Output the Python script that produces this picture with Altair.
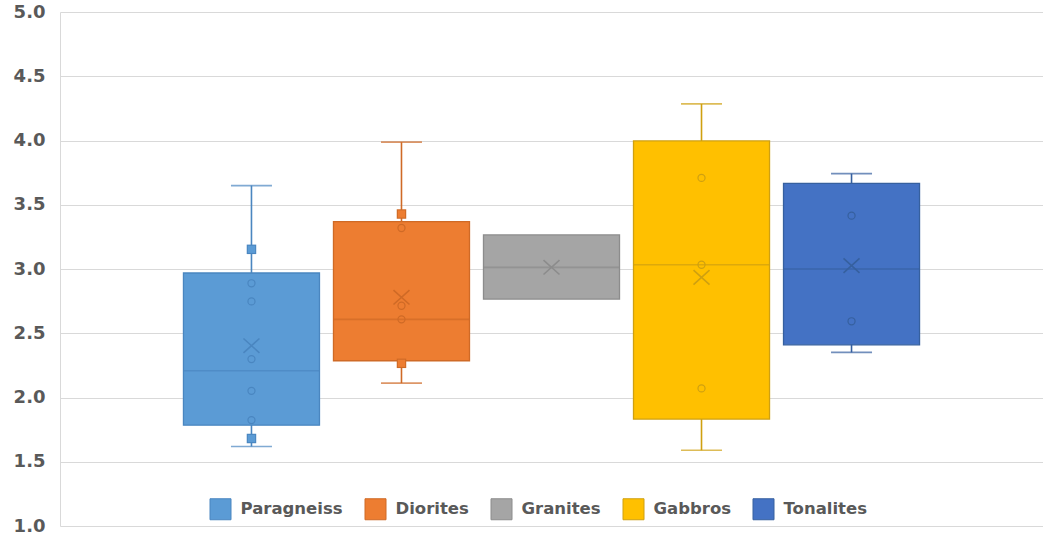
import altair as alt
import pandas as pd

# Rock groups and their colours (fill / outline)
series = ["Paragneiss", "Diorites", "Granites", "Gabbros", "Tonalites"]
fill_colors = ["#5B9BD5", "#ED7D31", "#A5A5A5", "#FFC000", "#4472C4"]
line_colors = ["#4A86C0", "#CF6A26", "#8C8C8C", "#CFA010", "#36609F"]

# Box statistics per group
q1 = [1.785, 2.286, 2.766, 1.832, 2.410]
median = [2.208, 2.608, 3.013, 3.033, 3.000]
q3 = [2.969, 3.368, 3.265, 3.997, 3.667]
mean = [2.403, 2.780, 3.013, 2.935, 3.026]

# Whisker ends (Granites has none)
whisker_series = ["Paragneiss", "Diorites", "Gabbros", "Tonalites"]
whisker_low = [1.619, 2.112, 1.590, 2.351]
whisker_high = [3.649, 3.987, 4.285, 3.742]

# Individual samples drawn as hollow circles
point_series = ["Paragneiss"] * 5 + ["Diorites"] * 3 + ["Gabbros"] * 3 + ["Tonalites"] * 2
point_values = [2.889, 2.748, 2.299, 2.052, 1.824,
                3.319, 2.714, 2.608,
                3.709, 3.033, 2.071,
                3.415, 2.593]

# Samples drawn as filled squares
square_series = ["Paragneiss", "Paragneiss", "Diorites", "Diorites"]
square_values = [3.153, 1.681, 3.428, 2.266]

box_df = pd.DataFrame({"series": series, "q1": q1, "median": median, "q3": q3, "mean": mean})
whisk_df = pd.DataFrame({"series": whisker_series, "low": whisker_low, "high": whisker_high})
caps_df = pd.DataFrame({"series": whisker_series * 2, "value": whisker_low + whisker_high})
pts_df = pd.DataFrame({"series": point_series, "value": point_values})
sq_df = pd.DataFrame({"series": square_series, "value": square_values})

FONT = "DejaVu Sans"

x_enc = alt.X("series:N", sort=series,
              scale=alt.Scale(domain=series, paddingInner=0.0933, paddingOuter=0.823),
              axis=None)
y_scale = alt.Scale(domain=[1, 5], nice=False, zero=False)
y_axis = alt.Axis(values=[1, 1.5, 2, 2.5, 3, 3.5, 4, 4.5, 5], format=".1f",
                  grid=True, gridColor="#D9D9D9", gridWidth=1,
                  domain=True, domainColor="#D9D9D9", domainWidth=1,
                  ticks=False, labelFont=FONT, labelFontSize=18, labelFontWeight="bold",
                  labelColor="#595959", labelPadding=15, title=None)

legend = alt.Legend(orient="none", legendX=149.5, legendY=486, direction="horizontal",
                    title=None, symbolType="square", symbolSize=441, symbolStrokeWidth=1,
                    labelFont=FONT, labelFontSize=16.5, labelFontWeight="bold",
                    labelColor="#595959", labelOffset=9, columnPadding=19, padding=0)

# Line work (whiskers, caps, medians, sample markers) uses the colour channel;
# its domain is listed in reverse so it stays a separate, legend-free scale.
line_color = alt.Color("series:N",
                       scale=alt.Scale(domain=series[::-1], range=line_colors[::-1]),
                       legend=None)
fill_enc = alt.Fill("series:N", scale=alt.Scale(domain=series, range=fill_colors), legend=legend)
stroke_enc = alt.Stroke("series:N", scale=alt.Scale(domain=series, range=line_colors), legend=legend)

whiskers = alt.Chart(whisk_df).mark_rule(strokeWidth=1.6).encode(
    x=x_enc,
    y=alt.Y("low:Q", scale=y_scale, axis=y_axis),
    y2="high:Q",
    color=line_color,
)

caps = alt.Chart(caps_df).mark_tick(orient="horizontal", size=41, thickness=1.6).encode(
    x=x_enc,
    y=alt.Y("value:Q", scale=y_scale, axis=y_axis),
    color=line_color,
)

boxes = alt.Chart(box_df).mark_bar(strokeWidth=1.3, opacity=1).encode(
    x=x_enc,
    y=alt.Y("q1:Q", scale=y_scale, axis=y_axis),
    y2="q3:Q",
    fill=fill_enc,
    stroke=stroke_enc,
)

medians = alt.Chart(box_df).mark_tick(orient="horizontal", size=136, thickness=1.6).encode(
    x=x_enc,
    y=alt.Y("median:Q", scale=y_scale, axis=y_axis),
    color=line_color,
)

circles = alt.Chart(pts_df).mark_point(shape="circle", filled=False, size=50,
                                       strokeWidth=1.2, opacity=1).encode(
    x=x_enc,
    y=alt.Y("value:Q", scale=y_scale, axis=y_axis),
    color=line_color,
)

# Filled squares with a darker rim: darker square underneath, lighter one on top
squares_rim = alt.Chart(sq_df).mark_point(shape="square", filled=True, size=90,
                                          opacity=1).encode(
    x=x_enc,
    y=alt.Y("value:Q", scale=y_scale, axis=y_axis),
    color=line_color,
)
squares = alt.Chart(sq_df).mark_point(shape="square", filled=True, size=52,
                                      opacity=1).encode(
    x=x_enc,
    y=alt.Y("value:Q", scale=y_scale, axis=y_axis),
    fill=fill_enc,
)

means = alt.Chart(box_df).mark_point(shape="M-1,-0.9L1,0.9M-1,0.9L1,-0.9", filled=False,
                                     size=256, strokeWidth=1.6, opacity=1).encode(
    x=x_enc,
    y=alt.Y("mean:Q", scale=y_scale, axis=y_axis),
    color=line_color,
)

chart = alt.layer(whiskers, caps, boxes, medians, circles, squares_rim, squares, means).properties(
    width=983,
    height=514,
    autosize=alt.AutoSizeParams(type="none"),
    padding={"left": 60, "top": 12, "right": 0, "bottom": 16},
    background="white",
).configure_view(stroke=None)

chart.save("out.html", embed_options={"renderer": "svg", "actions": False})
